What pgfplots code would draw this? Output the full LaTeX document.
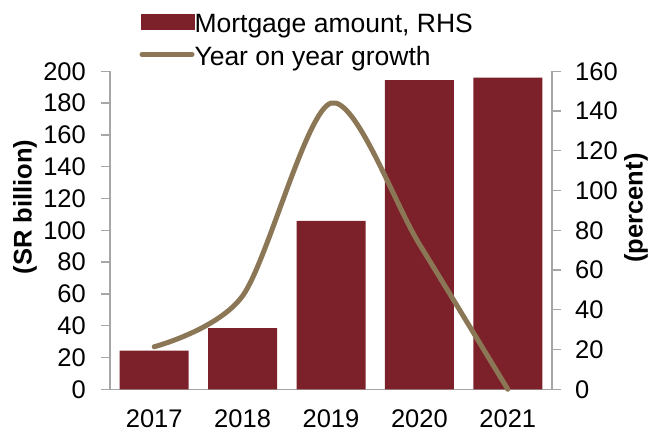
\documentclass[border=0pt]{standalone}
\usepackage{pgfplots}
\pgfplotsset{compat=1.18}
\usepackage{fontspec}
\setmainfont{Liberation Sans}
\definecolor{barred}{RGB}{124,32,41}
\definecolor{linebrown}{RGB}{139,118,85}
\definecolor{axgray}{RGB}{166,166,166}
\begin{document}
\begin{tikzpicture}
\useasboundingbox (-110bp,-42.7bp) rectangle (541bp,389.3bp);
\pgfplotsset{
  common/.style={
    at={(0,0)}, anchor=south west,
    scale only axis, width=442bp, height=318bp,
    xmin=-0.5, xmax=4.5,
    font=\fontsize{25.5bp}{30bp}\selectfont,
    tick label style={font=\fontsize{25.5bp}{30bp}\selectfont},
    /pgf/number format/assume math mode=true,
    axis line style={-, axgray, line width=1.3bp},
    tick style={axgray, line width=1.3bp},
    tick align=outside,
    major tick length=9bp,
    label style={font=\bfseries\fontsize{25.5bp}{30bp}\selectfont},
  }
}
\begin{axis}[common,
  axis y line*=left, axis x line*=bottom,
  ymin=0, ymax=200, ytick={0,20,...,200},
  xtick={0,1,2,3,4}, xticklabels={2017,2018,2019,2020,2021},
  x tick style={draw=none},
  xticklabel style={inner sep=0pt, yshift=-11bp},
  yticklabel style={inner sep=0pt, xshift=-15bp},
  ylabel={(SR billion)},
  ylabel style={at={(axis description cs:-0.192,0.573)}, anchor=center},
  ybar, bar width=69bp,
]
\addplot[fill=barred, draw=none] coordinates {(0,24.3) (1,38.4) (2,105.9) (3,194.5) (4,196)};
\end{axis}
\begin{axis}[common,
  axis y line*=right, axis x line=none,
  ymin=0, ymax=160, ytick={0,20,...,160},
  yticklabel style={inner sep=0pt, xshift=14bp},
  ylabel={(percent)},
  ylabel style={at={(axis description cs:1.19,0.570)}, anchor=center},
  clip=false,
  legend cell align=left,
  legend style={at={(axis description cs:0.0663,1.012)}, anchor=south west,
    draw=none, fill=none, inner sep=0pt, row sep=13bp, nodes={inner sep=0pt},
    /tikz/every even column/.append style={column sep=5bp},
    font=\fontsize{26.5bp}{31bp}\selectfont},
]
\addlegendimage{legend image code/.code={\fill[barred] (0bp,-5.5bp) rectangle (53bp,9.5bp);}}
\addlegendentry{Mortgage amount, RHS}
\addplot[linebrown, line width=5bp, smooth, line cap=round,
  legend image code/.code={\draw[linebrown, line width=5bp, line cap=round] (1.2bp,2.5bp) -- (51.2bp,2.5bp);}]
  coordinates {(0,21.4) (1,47) (2,144) (3,73) (4,0)};
\addlegendentry{Year on year growth}
\end{axis}
\end{tikzpicture}
\end{document}
